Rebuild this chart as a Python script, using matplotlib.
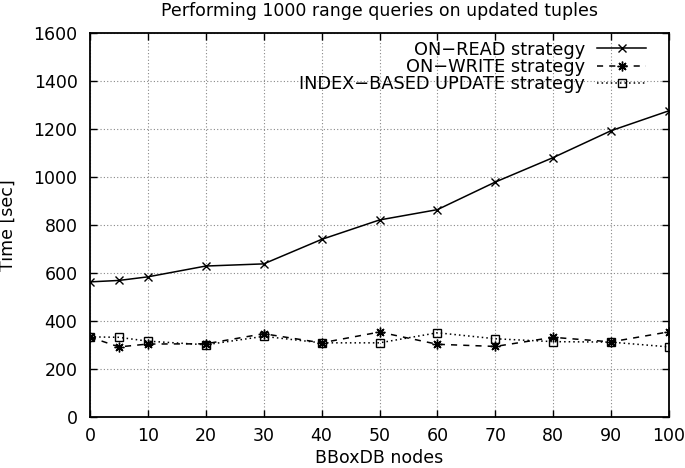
import numpy as np
import matplotlib
matplotlib.use("Agg")
import matplotlib.pyplot as plt

# data
nodes = [0, 5, 10, 20, 30, 40, 50, 60, 70, 80, 90, 100]
on_read = [563, 569, 584, 629, 638, 740, 821, 864, 979, 1081, 1193, 1276]
on_write = [333, 292, 304, 305, 347, 309, 354, 303, 294, 332, 313, 355]
index_based = [334, 332, 316, 301, 336, 309, 309, 351, 326, 314, 312, 292]

xticks = list(range(0, 101, 10))
yticks = list(range(0, 1601, 200))

plt.rcParams['font.family'] = 'DejaVu Sans'
plt.rcParams['font.size'] = 12.5

fig = plt.figure(figsize=(6.85, 4.68), dpi=100)
ax = fig.add_axes([90/685, 1 - 417/468, (669-90)/685, (417-33)/468])

ax.plot(nodes, on_read, color='black', lw=1.1, ls='-', marker='x', ms=6, mew=1.0,
        label='ON\u2212READ strategy')
ax.plot(nodes, on_write, color='black', lw=1.1, ls=(0, (4, 4)), marker=(8, 2, 0), ms=7, mew=1.0,
        label='ON\u2212WRITE strategy')
ax.plot(nodes, index_based, color='black', lw=1.1, ls=(0, (1, 2)), marker='s', ms=6, mew=1.0,
        mfc='none', label='INDEX\u2212BASED UPDATE strategy')

ax.set_xlim(0, 100)
ax.set_ylim(0, 1600)
ax.set_xticks(xticks)
ax.set_yticks(yticks)
ax.grid(True, color='#888888', ls=(0, (1, 2)), lw=0.8)
ax.tick_params(direction='in', length=5, width=1, top=True, right=True)
ax.tick_params(axis='y', pad=9)
ax.tick_params(axis='x', pad=7)
for s in ax.spines.values():
    s.set_linewidth(1.3)

ax.set_xlabel('BBoxDB nodes', labelpad=3)
ax.set_ylabel('Time [sec]')
ax.yaxis.set_label_coords(-0.127, 0.5)
ax.set_title('Performing 1000 range queries on updated tuples', fontsize=12.5, pad=12)

leg = ax.legend(loc='upper right', bbox_to_anchor=(1 - 12/579, 1 + 3/384), frameon=False,
                markerfirst=False, handlelength=2.75, labelspacing=-0.05, borderaxespad=0.2,
                handletextpad=0.7, fontsize=12.8)

fig.savefig('out.png', dpi=100)
